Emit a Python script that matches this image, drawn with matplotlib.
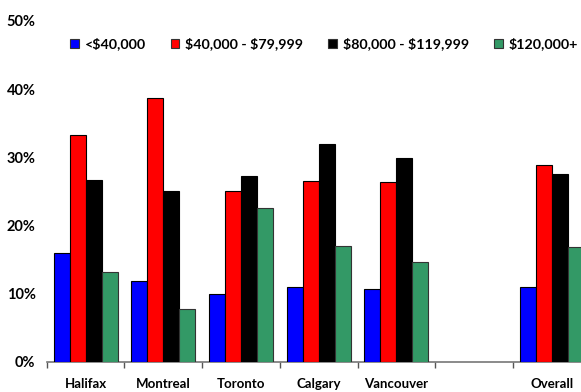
import matplotlib
matplotlib.use("Agg")
import matplotlib.pyplot as plt
import numpy as np
from matplotlib.patches import Patch

categories = ["Halifax", "Montreal", "Toronto", "Calgary", "Vancouver", "", "Overall"]
series_names = ["<$40,000", "$40,000 - $79,999", "$80,000 - $119,999", "$120,000+"]
under_40k = [15.9, 11.9, 9.9, 10.9, 10.6, 0, 10.9]
k40_80 = [33.3, 38.7, 25.0, 26.5, 26.3, 0, 28.9]
k80_120 = [26.6, 25.0, 27.2, 32.0, 29.9, 0, 27.6]
over_120k = [13.2, 7.7, 22.6, 17.0, 14.6, 0, 16.9]
yticks = [0, 10, 20, 30, 40, 50]
ytick_labels = ["0%", "10%", "20%", "30%", "40%", "50%"]

colors = ["#0000ff", "#ff0000", "#000000", "#339966"]
edges = ["#000000", "#000000", "#000000", "#333333"]

plt.rcParams['font.family'] = ['Lato', 'DejaVu Sans']
fig = plt.figure(figsize=(5.81, 3.92), dpi=100)
ax = fig.add_axes([46.7/581, 30.3/392, 544/581, 340.7/392])

x = np.arange(len(categories))
w = 0.206
data = [under_40k, k40_80, k80_120, over_120k]
for i, vals in enumerate(data):
    v = np.array(vals, dtype=float)
    mask = v > 0
    ax.bar(x[mask] + (i - 1.5) * w, v[mask], width=w, color=colors[i],
           edgecolor=edges[i], linewidth=0.8, zorder=3)

ax.set_xlim(-0.5, len(categories) - 0.5)
ax.set_ylim(0, 50)
ax.set_yticks(yticks)
ax.set_yticklabels(ytick_labels, fontsize=10.5, fontweight='bold')
ax.tick_params(axis='y', length=0, pad=8)
ax.set_xticks(x)
ax.set_xticklabels(categories, fontsize=9.5, fontweight='bold')
ax.tick_params(axis='x', which='major', length=0, pad=12)
ax.set_xticks(np.arange(-0.5, len(categories), 1.0), minor=True)
ax.tick_params(axis='x', which='minor', length=4, width=1, color='#555555', direction='out')

for s in ['top', 'right', 'left']:
    ax.spines[s].set_visible(False)
ax.spines['bottom'].set_color('#777777')
ax.spines['bottom'].set_linewidth(1.2)

labels = [s.replace('$', r'\$') for s in series_names]
handles = [Patch(facecolor=colors[i], edgecolor='#333333', linewidth=0.8, label=labels[i]) for i in range(4)]
fig.legend(handles=handles, loc='center left', bbox_to_anchor=(70/581, 1 - 44/392), ncol=4,
           frameon=False, prop={'weight': 'bold', 'size': 10.3},
           handlelength=0.6, handleheight=0.65, handletextpad=0.42, columnspacing=1.75,
           borderpad=0, borderaxespad=0)

fig.savefig("out.png", dpi=100)
